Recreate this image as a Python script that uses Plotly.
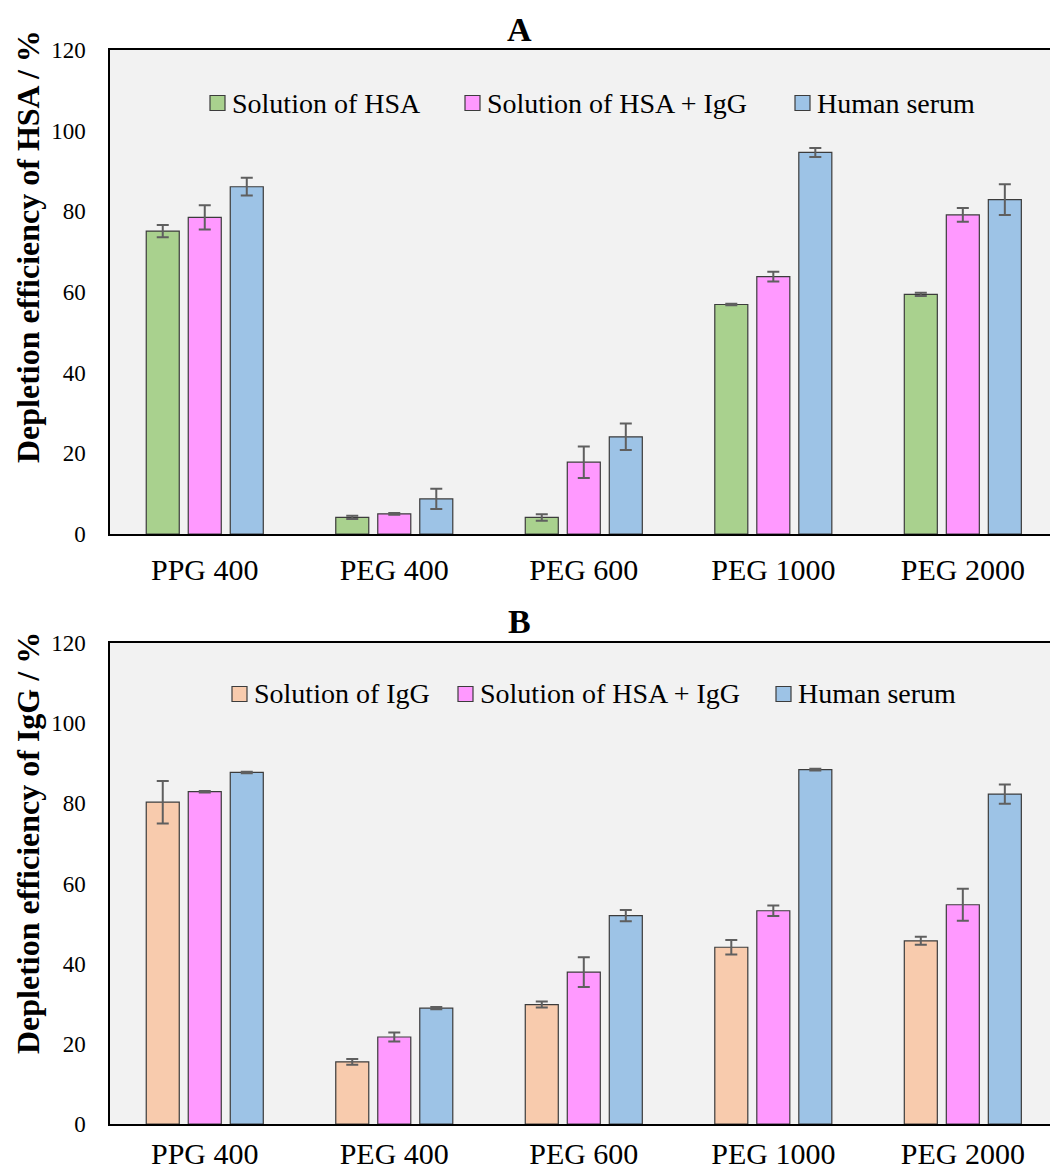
import plotly.graph_objects as go

# ---------------- data ----------------
categories = ["PPG 400", "PEG 400", "PEG 600", "PEG 1000", "PEG 2000"]

# Panel A: depletion efficiency of HSA (%)
names_a = ["Solution of HSA", "Solution of HSA + IgG", "Human serum"]
hsa_solution = [75.1, 4.1, 4.1, 56.9, 59.4]
hsa_solution_err = [1.5, 0.4, 0.8, 0.2, 0.4]
hsa_mix = [78.5, 5.0, 17.8, 63.8, 79.1]
hsa_mix_err = [3.0, 0.2, 3.9, 1.2, 1.7]
hsa_serum = [86.1, 8.7, 24.1, 94.6, 82.9]
hsa_serum_err = [2.2, 2.5, 3.3, 1.1, 3.8]

# Panel B: depletion efficiency of IgG (%)
names_b = ["Solution of IgG", "Solution of HSA + IgG", "Human serum"]
igg_solution = [80.3, 15.5, 29.8, 44.1, 45.7]
igg_solution_err = [5.3, 0.7, 0.75, 1.8, 1.0]
igg_mix = [82.9, 21.7, 37.9, 53.2, 54.7]
igg_mix_err = [0.2, 1.1, 3.7, 1.3, 4.0]
igg_serum = [87.7, 28.9, 52.0, 88.4, 82.3]
igg_serum_err = [0.2, 0.3, 1.4, 0.2, 2.4]

y_ticks = [0, 20, 40, 60, 80, 100, 120]

colors_a = ["#a9d18e", "#ff99ff", "#9dc3e6"]
colors_b = ["#f8cbad", "#ff99ff", "#9dc3e6"]

# ---------------- layout geometry (pixels) ----------------
W, H = 1050, 1173
ML, MR, MT, MB = 110, 0, 50, 49
PW = W - ML - MR
PH = H - MT - MB


def px_x(px):
    return (px - ML) / PW


def px_y(py):
    return (H - MB - py) / PH


SERIF = "Times New Roman, Tinos, Liberation Serif, DejaVu Serif, Noto Serif, serif"
fig = go.Figure()

panels = [
    ("x", "y", names_a, [hsa_solution, hsa_mix, hsa_serum],
     [hsa_solution_err, hsa_mix_err, hsa_serum_err], colors_a),
    ("x2", "y2", names_b, [igg_solution, igg_mix, igg_serum],
     [igg_solution_err, igg_mix_err, igg_serum_err], colors_b),
]

for xa, ya, names, vals, errs, cols in panels:
    for name, v, e, c in zip(names, vals, errs, cols):
        fig.add_trace(go.Bar(
            x=categories, y=v, name=name, xaxis=xa, yaxis=ya,
            marker=dict(color=c, line=dict(color="#3c3c3c", width=1.2)),
            error_y=dict(type="data", array=e, visible=True,
                         color="#5f5f5f", thickness=2, width=6),
            showlegend=False,
        ))

axis_common_x = dict(
    type="category", range=[-0.5, 4.46], showline=True, linecolor="black",
    linewidth=2, mirror=True, showgrid=False, zeroline=False, ticks="",
    tickfont=dict(family=SERIF, size=30, color="black"),
    fixedrange=True, automargin=False,
)
axis_common_y = dict(
    range=[0, 120], tickvals=y_ticks, showline=True, linecolor="black",
    linewidth=1.5, showgrid=False, zeroline=False, ticks="",
    tickfont=dict(family=SERIF, size=23, color="black"),
    ticklabelstandoff=18, automargin=False,
)

fig.update_layout(
    width=W, height=H,
    margin=dict(l=ML, r=MR, t=MT, b=MB, autoexpand=False),
    paper_bgcolor="white", plot_bgcolor="#f2f2f2",
    barmode="group", bargap=0.335, bargroupgap=0.214,
    xaxis=dict(axis_common_x, domain=[0, 1], anchor="y", ticklabelstandoff=8),
    yaxis=dict(axis_common_y, domain=[px_y(534), px_y(50)], anchor="x"),
    xaxis2=dict(axis_common_x, domain=[0, 1], anchor="y2", ticklabelstandoff=2),
    yaxis2=dict(axis_common_y, domain=[px_y(1124), px_y(643)], anchor="x2"),
    font=dict(family=SERIF, color="black"),
    showlegend=False,
)

annotations = []
shapes = []

# panel titles
annotations.append(dict(text="<b>A</b>", x=px_x(519), y=px_y(30), xref="paper", yref="paper",
                        showarrow=False, font=dict(family=SERIF, size=34, color="black"),
                        xanchor="center", yanchor="middle"))
annotations.append(dict(text="<b>B</b>", x=px_x(519), y=px_y(621), xref="paper", yref="paper",
                        showarrow=False, font=dict(family=SERIF, size=34, color="black"),
                        xanchor="center", yanchor="middle"))

# y-axis titles
annotations.append(dict(text="<b>Depletion efficiency of HSA / %</b>", x=px_x(28), y=px_y(247),
                        xref="paper", yref="paper", showarrow=False, textangle=-90,
                        font=dict(family=SERIF, size=32, color="black"),
                        xanchor="center", yanchor="middle"))
annotations.append(dict(text="<b>Depletion efficiency of IgG / %</b>", x=px_x(28), y=px_y(843),
                        xref="paper", yref="paper", showarrow=False, textangle=-90,
                        font=dict(family=SERIF, size=32, color="black"),
                        xanchor="center", yanchor="middle"))

# in-plot legends (marker square + label)
legend_specs = [
    (names_a, colors_a, [210, 465, 795], 103),
    (names_b, colors_b, [232, 458, 776], 694),
]
for names, cols, xs, yc in legend_specs:
    for name, c, mx in zip(names, cols, xs):
        shapes.append(dict(type="rect", xref="paper", yref="paper",
                           x0=px_x(mx), x1=px_x(mx + 15), y0=px_y(yc + 7.5), y1=px_y(yc - 7.5),
                           fillcolor=c, line=dict(color="#3c3c3c", width=1.2)))
        annotations.append(dict(text=name, x=px_x(mx + 20), y=px_y(yc), xref="paper", yref="paper",
                                showarrow=False, xanchor="left", yanchor="middle",
                                font=dict(family=SERIF, size=28, color="black")))

fig.update_layout(annotations=annotations, shapes=shapes)

fig.write_html("out.html")
